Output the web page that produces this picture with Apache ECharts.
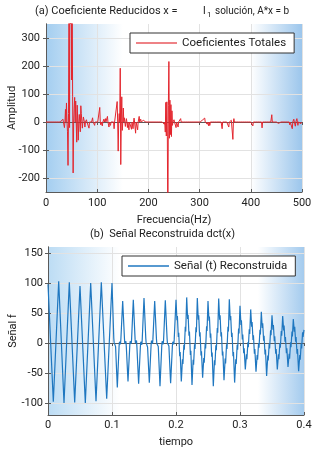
<!DOCTYPE html>
<html>
<head>
<meta charset="utf-8">
<script src="https://cdn.jsdelivr.net/npm/echarts@6/dist/echarts.min.js"></script>
<style>
  html, body { margin: 0; padding: 0; background: #fff; }
  #chart { width: 329px; height: 452px; }
</style>
</head>
<body>
<div id="chart"></div>
<script>
// (a) sparse DCT coefficients: frequency (Hz) and amplitude, everything else is 0
const spikeFreq = [30, 33, 36, 38, 40, 42, 43, 44, 45, 46, 47, 48, 49, 50, 51, 52, 53, 55, 56, 58, 60, 61, 63, 65, 67, 68, 69, 71, 73, 74, 76, 79, 81, 84, 88, 91, 95, 98,
  105, 107, 110, 113, 116, 120, 123, 126, 129, 133, 136, 139, 141, 143, 145, 146, 148, 149, 151, 153, 155, 157, 159, 162, 165, 167, 170, 172, 175, 179, 182, 185, 190,
  228, 231, 233, 234, 235, 236, 237, 238, 239, 240, 241, 242, 243, 244, 245, 246, 247, 250, 254, 258, 263, 266,
  305, 310, 315, 318, 320, 324, 328, 335, 344, 352, 357, 362, 365, 367, 383, 404, 422, 441, 454, 472, 476, 481, 484, 487, 490, 492, 495, 498];
const spikeAmp = [-6, 10, -20, 45, 68, -35, -155, 30, 480, -20, 620, 350, 700, 150, 520, 90, -182, 50, 88, 75, -72, 60, -65, 27, -35, 58, 30, -22, 18, 20, -18, 8, 5, -22, 4, 15, -12, 3,
  52, -10, -14, 10, 12, 20, -18, -12, 4, -24, 4, 73, -104, 30, 192, -152, 90, -30, 50, 15, -16, 12, -20, -28, 4, -26, -24, 14, -40, -28, 20, 10, 6,
  6, -8, -36, 70, -50, 72, -53, -420, 60, 216, -58, 78, -45, 62, -52, 40, -12, 8, -20, -18, 12, 4,
  6, 14, -8, -14, -12, 5, -6, 6, -24, 4, -18, 6, -62, 12, 6, -14, -21, 26, -5, 6, -10, -24, 10, -15, 12, -12, 5, -6];
const freqTicks = [0, 100, 200, 300, 400, 500];
const ampTicks = [-200, -100, 0, 100, 200, 300];

// (b) reconstructed signal, turning points: [time ms, value]
const sigA = [[0, 98], [8.3, -98], [16.7, 103], [25, -100], [33.3, 101], [41.7, -99], [50, 95], [58.3, -100], [66.7, 100], [75, -97], [83.3, 101], [91.7, -93], [100, 100]];
const sigB = [
  [102.8, 8], [103.3, 1], [105, 4], [105.6, -6], [108.3, -74], [111.1, -5], [111.7, 2], [113.3, -2], [113.9, 7],
  [116.7, 70], [119.5, 7], [120, -1], [121.7, 3], [122.3, -5], [125, -64], [127.8, -4], [128.4, 3], [130, -1], [130.6, 6],
  [133.3, 72], [136.1, 6], [136.6, 0], [138.3, 4], [138.9, -6], [141.6, -68], [144.4, -5], [145, 2], [146.6, -3], [147.2, 5],
  [150, 75], [152.8, 8], [153.3, 1], [155, 3], [155.6, -7], [158.3, -66], [161.1, -3], [161.7, 4], [163.3, -1], [163.9, 6],
  [166.7, 70], [169.5, 6], [170, -1], [171.7, 2], [172.3, -6], [175, -72], [177.8, -4], [178.4, 3], [180, -2], [180.6, 5],
  [183.3, 71], [186.1, 7], [186.6, 0], [188.3, 3], [188.9, -5], [191.6, -67], [194.4, -4], [195, 2], [196.6, -2], [197.2, 6]];
const sigC = [
  [200, 72], [201.5, 38], [202.2, 45], [203.6, 10], [204.3, 17], [205.8, -22], [206.5, -15], [208.3, -64], [210.1, -27], [210.8, -35], [212.3, -3], [213, -11], [214.5, 27], [215.2, 19],
  [216.7, 76], [218.2, 40], [218.9, 47], [220.3, 12], [221, 19], [222.5, -20], [223.2, -13], [225, -70], [226.8, -28], [227.5, -36], [229, -2], [229.7, -10], [231.2, 26], [231.9, 18],
  [233.3, 75], [234.8, 39], [235.5, 46], [236.9, 11], [237.6, 18], [239.1, -21], [239.8, -14], [241.6, -58], [243.4, -25], [244.1, -33], [245.6, -1], [246.3, -9], [247.8, 28], [248.5, 20],
  [250, 70], [251.5, 37], [252.2, 44], [253.6, 9], [254.3, 16], [255.8, -23], [256.5, -16], [258.3, -72], [260.1, -29], [260.8, -37], [262.3, -4], [263, -12], [264.5, 25], [265.2, 17],
  [266.7, 74], [268.2, 39], [268.9, 46], [270.3, 11], [271, 18], [272.5, -21], [273.2, -14], [275, -62], [276.8, -26], [277.5, -34], [279, -2], [279.7, -10], [281.2, 27], [281.9, 19],
  [283.3, 73], [284.8, 38], [285.5, 45], [286.9, 10], [287.6, 17], [289.1, -22], [289.8, -15], [291.6, -66], [293.4, -27], [294.1, -35], [295.6, -3], [296.3, -11], [297.8, 24], [298.5, 16]];
const sigD = [
  [300, 62], [301.5, 30], [302.2, 38], [303.6, 6], [304.3, 14], [305.8, -17], [306.5, -9], [308.3, -44], [310.1, -19], [310.8, -27], [312.3, 1], [313, -7], [314.5, 23], [315.2, 15],
  [316.7, 56], [318.2, 27], [318.9, 35], [320.3, 5], [321, 13], [322.5, -18], [323.2, -10], [325, -48], [326.8, -20], [327.5, -28], [329, 0], [329.7, -8], [331.2, 22], [331.9, 14],
  [333.3, 52], [334.8, 25], [335.5, 33], [336.9, 4], [337.6, 12], [339.1, -19], [339.8, -11], [341.6, -55], [343.4, -21], [344.1, -29], [345.6, -1], [346.3, -9], [347.8, 21], [348.5, 13],
  [350, 46], [351.5, 22], [352.2, 30], [353.6, 3], [354.3, 11], [355.8, -18], [356.5, -10], [358.3, -44], [360.1, -19], [360.8, -27], [362.3, 0], [363, -8], [364.5, 20], [365.2, 12],
  [366.7, 45], [368.2, 21], [368.9, 29], [370.3, 2], [371, 10], [372.5, -17], [373.2, -9], [375, -40], [376.8, -18], [377.5, -26], [379, 1], [379.7, -7], [381.2, 19], [381.9, 11],
  [383.3, 40], [384.8, 19], [385.5, 27], [386.9, 2], [387.6, 10], [389.1, -18], [389.8, -10], [391.6, -47], [393.4, -20], [394.1, -28], [395.6, -1], [396.3, -9], [397.8, 18], [398.5, 10],
  [400, 22]];
const timeTicks = [0, 0.1, 0.2, 0.3, 0.4];
const sigTicks = [-100, -50, 0, 50, 100, 150];

const FONT = 'Roboto';
const chart = echarts.init(document.getElementById('chart'));

// full coefficient vector 0..500 Hz
const coef = [];
for (let f = 0; f <= 500; f++) coef.push([f, 0]);
spikeFreq.forEach((f, i) => { coef[f][1] = spikeAmp[i]; });

const signal = sigA.concat(sigB, sigC, sigD).map((p) => [p[0] / 1000, p[1]]);

const bgTop = new echarts.graphic.LinearGradient(0, 0, 1, 0, [
  { offset: 0, color: '#a4cef0' },
  { offset: 0.3, color: '#ffffff' },
  { offset: 0.8, color: '#ffffff' },
  { offset: 1, color: '#9cc6ec' },
]);
const bgBot = new echarts.graphic.LinearGradient(0, 0, 1, 0, [
  { offset: 0, color: '#bcdcf4' },
  { offset: 0.28, color: '#ffffff' },
  { offset: 0.82, color: '#ffffff' },
  { offset: 1, color: '#a4cbee' },
]);

const frame = '#5a5a5a';
const gridLine = { show: true, lineStyle: { color: '#e2e2e2', width: 1 } };
const labelStyle = { color: '#222', fontFamily: FONT, fontSize: 11 };

function sideAxis(extra) {
  return Object.assign({
    type: 'value',
    axisLine: { show: true, lineStyle: { color: frame } },
    axisTick: { show: true, inside: true, length: 3, lineStyle: { color: frame } },
    axisLabel: { show: false },
    splitLine: { show: false },
  }, extra);
}

const legendBase = {
  icon: 'rect', itemWidth: 41, itemHeight: 1.5, itemGap: 5,
  padding: [4, 8, 4, 6],
  backgroundColor: '#fff', borderColor: '#333', borderWidth: 1,
  textStyle: { color: '#222', fontFamily: FONT, fontSize: 11.5 },
};

const option = {
  animation: false,
  backgroundColor: '#fff',
  textStyle: { fontFamily: FONT },
  grid: [
    { left: 46, right: 27, top: 24, height: 168, show: true, backgroundColor: bgTop, borderWidth: 0, outerBoundsMode: 'none', containLabel: false },
    { left: 48, right: 25, top: 247, height: 168, show: true, backgroundColor: bgBot, borderWidth: 0, outerBoundsMode: 'none', containLabel: false },
  ],
  graphic: [
    { type: 'text', left: 35, top: 6, style: { text: '(a) Coeficiente Reducidos x =', font: '11px ' + FONT, fill: '#222' } },
    { type: 'text', left: 203, top: 6, style: { text: 'l', font: '11px ' + FONT, fill: '#222' } },
    { type: 'text', left: 207, top: 11, style: { text: '1', font: '8px ' + FONT, fill: '#222' } },
    { type: 'text', left: 215, top: 6, style: { text: 'solución, A*x = b', font: '10px ' + FONT, fill: '#222' } },
    { type: 'text', left: 90, top: 229, style: { text: '(b)  Señal Reconstruida dct(x)', font: '11px ' + FONT, fill: '#222' } },
  ],
  legend: [
    Object.assign({ left: 130, top: 33, data: ['Coeficientes Totales'] }, legendBase),
    Object.assign({ left: 122, top: 256, data: ['Señal (t) Reconstruida'] }, legendBase),
  ],
  xAxis: [
    {
      type: 'value', gridIndex: 0, min: 0, max: 500, interval: 100,
      name: 'Frecuencia(Hz)', nameLocation: 'middle', nameGap: 23, nameMoveOverlap: false, nameTextStyle: labelStyle,
      axisLine: { show: true, onZero: false, lineStyle: { color: frame } },
      axisTick: { show: true, inside: true, length: 3, lineStyle: { color: frame } },
      axisLabel: Object.assign({ margin: 6, customValues: freqTicks }, labelStyle),
      splitLine: gridLine,
    },
    sideAxis({ gridIndex: 0, position: 'top', min: 0, max: 500, interval: 100 }),
    {
      type: 'value', gridIndex: 1, min: 0, max: 0.4, interval: 0.1,
      name: 'tiempo', nameLocation: 'middle', nameGap: 22, nameMoveOverlap: false, nameTextStyle: labelStyle,
      axisLine: { show: true, onZero: false, lineStyle: { color: frame } },
      axisTick: { show: true, inside: true, length: 3, lineStyle: { color: frame } },
      axisLabel: Object.assign({ margin: 5, customValues: timeTicks }, labelStyle),
      splitLine: gridLine,
    },
    sideAxis({ gridIndex: 1, position: 'top', min: 0, max: 0.4, interval: 0.1 }),
  ],
  yAxis: [
    {
      type: 'value', gridIndex: 0, min: -250, max: 350,
      name: 'Amplitud', nameLocation: 'middle', nameGap: 28, nameMoveOverlap: false, nameTextStyle: labelStyle,
      axisLine: { show: true, onZero: false, lineStyle: { color: frame } },
      axisTick: { show: true, inside: true, length: 3, customValues: ampTicks, lineStyle: { color: frame } },
      axisLabel: Object.assign({ margin: 6, customValues: ampTicks }, labelStyle),
      splitLine: gridLine,
    },
    sideAxis({ gridIndex: 0, position: 'right', min: -250, max: 350,
      axisTick: { show: true, inside: true, length: 3, customValues: ampTicks, lineStyle: { color: frame } } }),
    {
      type: 'value', gridIndex: 1, min: -120, max: 160,
      name: 'Señal f', nameLocation: 'middle', nameGap: 29, nameMoveOverlap: false, nameTextStyle: labelStyle,
      axisLine: { show: true, onZero: false, lineStyle: { color: frame } },
      axisTick: { show: true, inside: true, length: 3, customValues: sigTicks, lineStyle: { color: frame } },
      axisLabel: Object.assign({ margin: 5, customValues: sigTicks }, labelStyle),
      splitLine: gridLine,
    },
    sideAxis({ gridIndex: 1, position: 'right', min: -120, max: 160,
      axisTick: { show: true, inside: true, length: 3, customValues: sigTicks, lineStyle: { color: frame } } }),
  ],
  series: [
    {
      name: 'Coeficientes Totales', type: 'line', xAxisIndex: 0, yAxisIndex: 0,
      symbol: 'none', clip: true,
      lineStyle: { width: 1, color: '#e3262e' },
      itemStyle: { color: '#e8585e' },
      data: coef,
    },
    {
      name: 'Señal (t) Reconstruida', type: 'line', xAxisIndex: 2, yAxisIndex: 2,
      symbol: 'none', clip: true,
      lineStyle: { width: 1.2, color: '#1f77c0' },
      itemStyle: { color: '#1f77c0' },
      data: signal,
    },
  ],
};

chart.setOption(option);
</script>
</body>
</html>
